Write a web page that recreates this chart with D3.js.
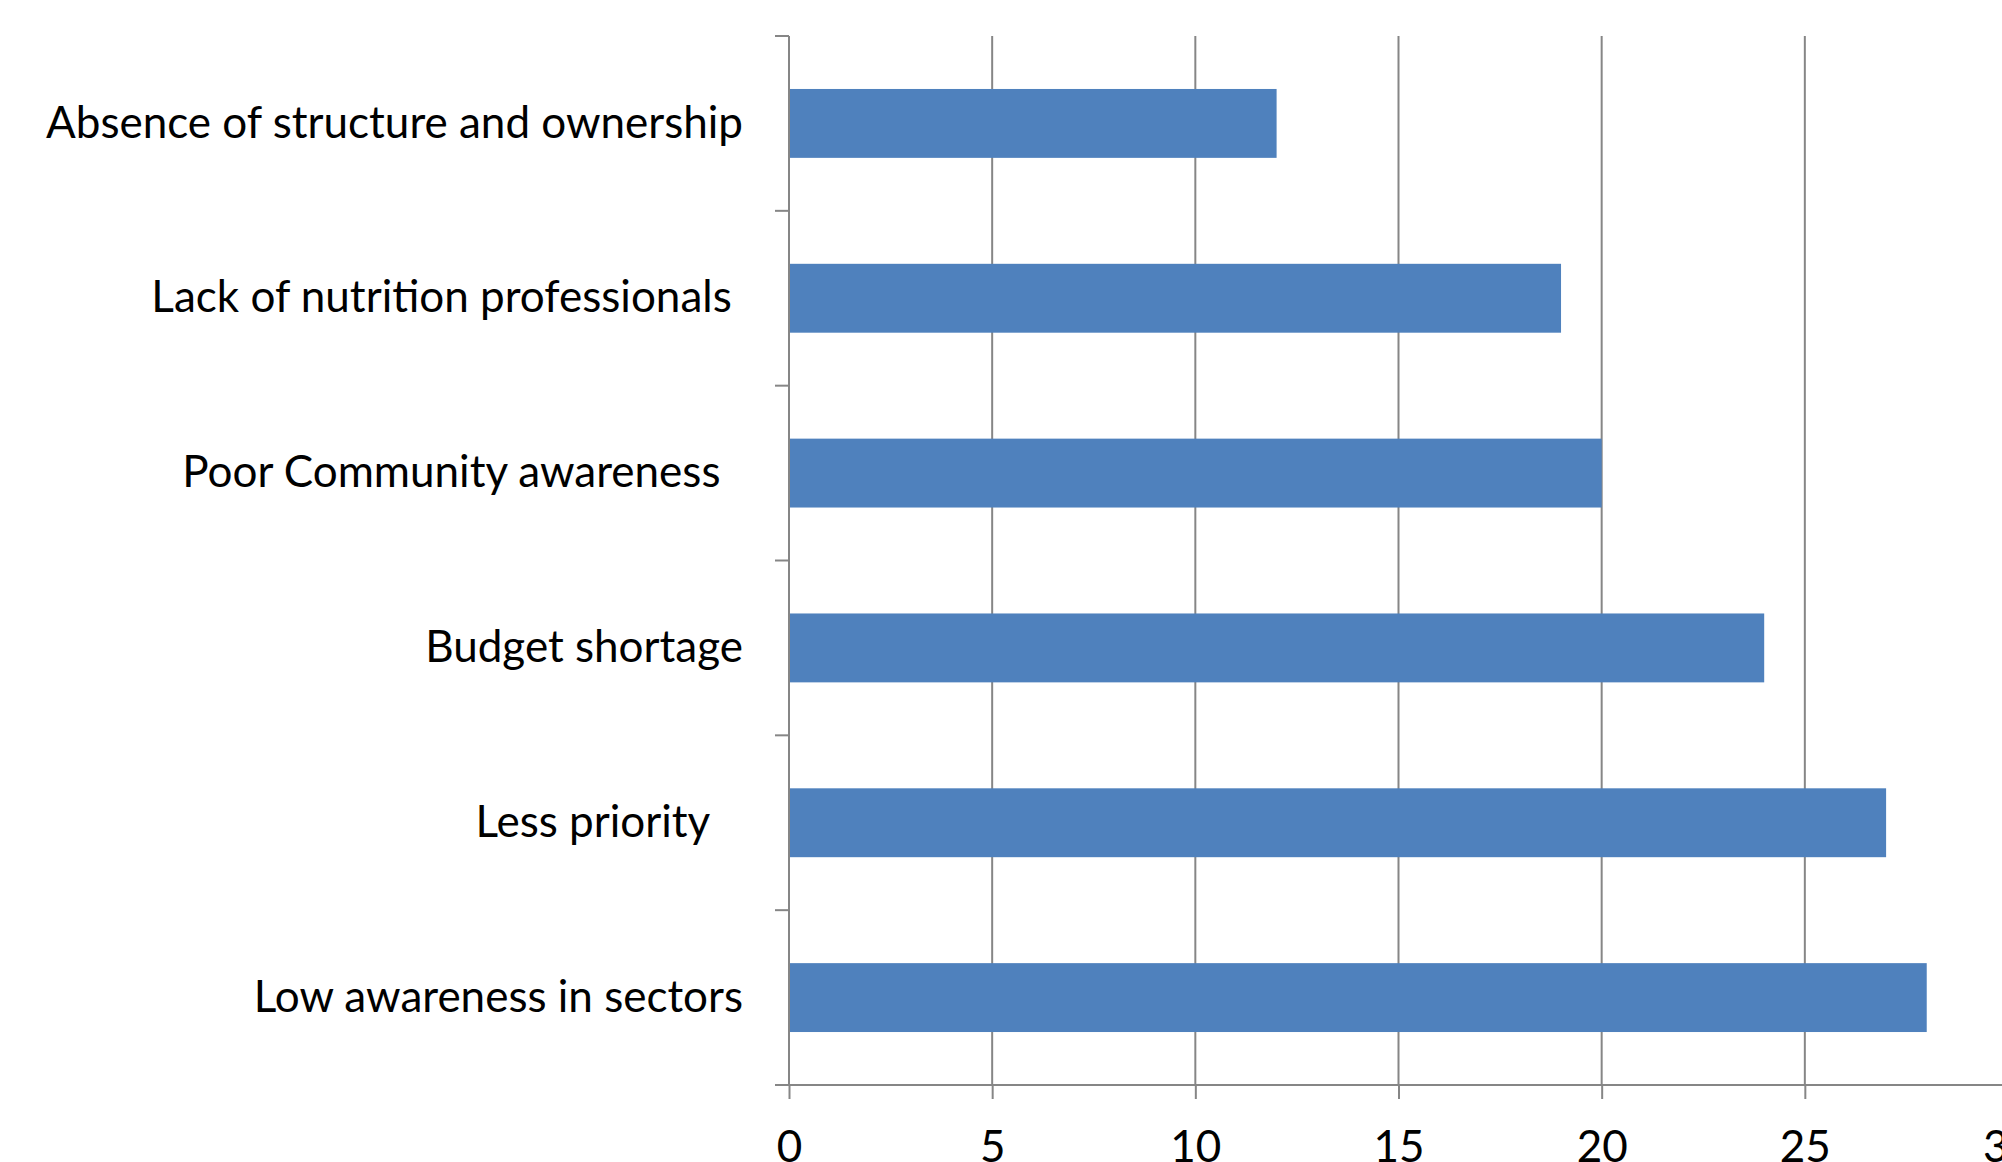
<!DOCTYPE html>
<html>
<head>
<meta charset="utf-8">
<script src="https://cdn.jsdelivr.net/npm/d3@7"></script>
<style>
  body { margin: 0; background: #fff; }
  svg { display: block; }
  text { font-family: Lato, "Open Sans", sans-serif; fill: #000; white-space: pre; }
</style>
</head>
<body>
<svg id="chart" width="2002" height="1162"></svg>
<script>
// categories top to bottom, trailing spaces kept as in the source chart
var categories = ["Absence of structure and ownership", "Lack of nutrition professionals ", "Poor Community awareness  ",
                  "Budget shortage", "Less priority   ", "Low awareness in sectors"];
var values = [12, 19, 20, 24, 27, 28];
var xTicks = [0, 5, 10, 15, 20, 25, 30];

var svg = d3.select("#chart");
var plotLeft = 789, plotRight = 2008, plotTop = 36, plotBottom = 1085;
var axisColor = "#868686";

var x = d3.scaleLinear().domain([0, 30]).range([plotLeft, plotRight]);
var y = d3.scaleBand().domain(categories).range([plotTop, plotBottom])
  .paddingInner(0.606).paddingOuter(0.303);

// vertical gridlines
svg.append("g").selectAll("line")
  .data(xTicks.slice(1))
  .enter().append("line")
    .attr("x1", function (d) { return x(d); })
    .attr("x2", function (d) { return x(d); })
    .attr("y1", plotTop)
    .attr("y2", plotBottom)
    .attr("stroke", axisColor)
    .attr("stroke-width", 2);

// bars
svg.append("g").selectAll("rect")
  .data(values)
  .enter().append("rect")
    .attr("x", x(0))
    .attr("y", function (d, i) { return y(categories[i]); })
    .attr("width", function (d) { return x(d) - x(0); })
    .attr("height", y.bandwidth())
    .attr("fill", "#4F81BD");

// x axis
var xAxis = svg.append("g")
  .attr("transform", "translate(0," + plotBottom + ")")
  .call(d3.axisBottom(x).tickValues(xTicks).tickSize(14).tickSizeOuter(0).tickPadding(30));
xAxis.select(".domain").remove();
xAxis.selectAll("line").attr("stroke", axisColor).attr("stroke-width", 2);
xAxis.selectAll("text").attr("font-size", 44).attr("dy", "0.75em");
svg.append("line")
  .attr("x1", plotLeft - 14).attr("x2", 2002)
  .attr("y1", plotBottom).attr("y2", plotBottom)
  .attr("stroke", axisColor).attr("stroke-width", 2);

// y axis: line, ticks at band boundaries, labels
svg.append("line")
  .attr("x1", plotLeft).attr("x2", plotLeft)
  .attr("y1", plotTop).attr("y2", plotBottom)
  .attr("stroke", axisColor).attr("stroke-width", 2);
var bounds = categories.map(function (c) { return y(c) - y.step() * 0.303; });
svg.append("g").selectAll("line")
  .data(bounds)
  .enter().append("line")
    .attr("x1", plotLeft - 14).attr("x2", plotLeft)
    .attr("y1", function (d) { return d; })
    .attr("y2", function (d) { return d; })
    .attr("stroke", axisColor).attr("stroke-width", 2);

var yAxis = svg.append("g")
  .attr("transform", "translate(" + plotLeft + ",0)")
  .call(d3.axisLeft(y).tickSize(0).tickPadding(46));
yAxis.select(".domain").remove();
yAxis.selectAll("text").attr("font-size", 44);
</script>
</body>
</html>
